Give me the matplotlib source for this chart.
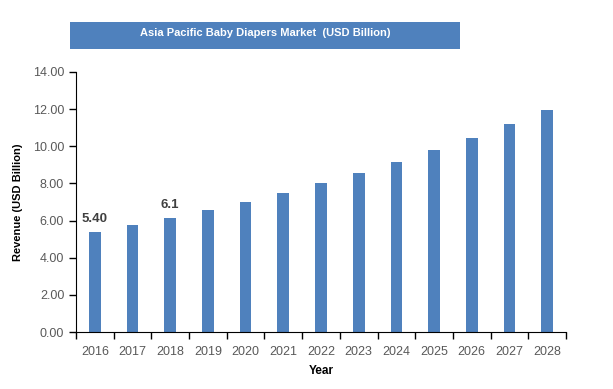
import numpy as np
import matplotlib as mpl
mpl.use('Agg')
import matplotlib.pyplot as plt
from matplotlib.patches import Rectangle

plt.rcParams['font.family'] = ['Liberation Sans', 'DejaVu Sans']

aYear = ['2016', '2017', '2018', '2019', '2020', '2021', '2022',
         '2023', '2024', '2025', '2026', '2027', '2028']
aRevenue = [5.40, 5.76, 6.14, 6.57, 7.01, 7.48, 8.02,
            8.58, 9.16, 9.80, 10.46, 11.20, 11.96]
aLabel_index = [0, 2]
aLabel_text = ['5.40', '6.1']

sColor_bar = '#4F81BD'
sColor_tick = '#595959'

fig = plt.figure(figsize=(6.13, 3.89), dpi=100)
ax = fig.add_axes([76 / 613, 0.1465, 490 / 613, 0.6685])

x = np.arange(len(aYear))
ax.bar(x, aRevenue, width=0.31, color=sColor_bar, zorder=2)

ax.set_xlim(-0.5, len(aYear) - 0.5)
ax.set_ylim(0, 14)
ax.set_yticks(np.arange(0, 14.01, 2))
ax.set_yticklabels(['{:.2f}'.format(v) for v in np.arange(0, 14.01, 2)])
ax.set_xticks(x)
ax.set_xticklabels(aYear)
ax.set_xticks(np.arange(-0.5, len(aYear), 1), minor=True)
ax.tick_params(axis='x', which='major', length=0, pad=10, labelsize=9, labelcolor=sColor_tick)
ax.tick_params(axis='x', which='minor', length=5, direction='out', width=1)
ax.tick_params(axis='y', length=5, direction='out', width=1, labelsize=9, labelcolor=sColor_tick)

ax.spines['top'].set_visible(False)
ax.spines['right'].set_visible(False)

ax.set_ylabel('Revenue (USD Billion)', fontsize=8, fontweight='bold', labelpad=7)
ax.set_xlabel('Year', fontsize=8.5, fontweight='bold', labelpad=5)

for i, s in zip(aLabel_index, aLabel_text):
    ax.text(x[i], aRevenue[i] + 0.35, s, ha='center', va='bottom',
            fontsize=9.5, fontweight='bold', color='#404040')

# title banner
fig.patches.append(Rectangle((70 / 613, 1 - 49 / 389), 390 / 613, 27 / 389,
                             transform=fig.transFigure, facecolor=sColor_bar,
                             edgecolor='none', zorder=0))
fig.text(265 / 613, 1 - 33 / 389, 'Asia Pacific Baby Diapers Market  (USD Billion)',
         ha='center', va='center', color='white', fontsize=8, fontweight='bold')

plt.savefig('out.png', dpi=100)
